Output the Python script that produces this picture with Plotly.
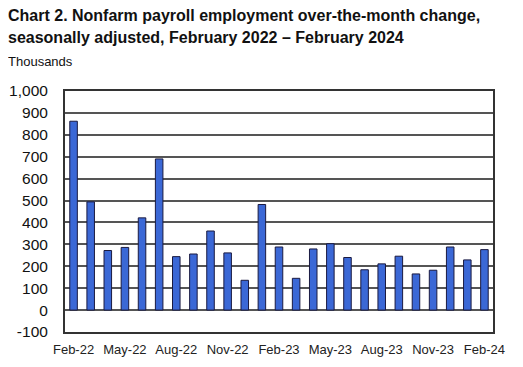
import plotly.graph_objects as go

months = ["Feb-22", "Mar-22", "Apr-22", "May-22", "Jun-22", "Jul-22", "Aug-22", "Sep-22",
          "Oct-22", "Nov-22", "Dec-22", "Jan-23", "Feb-23", "Mar-23", "Apr-23", "May-23",
          "Jun-23", "Jul-23", "Aug-23", "Sep-23", "Oct-23", "Nov-23", "Dec-23", "Jan-24", "Feb-24"]
change = [862, 494, 272, 286, 421, 690, 244, 256, 361, 261, 136, 482, 288, 145, 279, 303,
          240, 184, 211, 246, 165, 182, 288, 229, 276]
tick_labels = months[::3]
y_ticks = [-100, 0, 100, 200, 300, 400, 500, 600, 700, 800, 900, 1000]
y_tick_text = ["-100", "0", "100", "200", "300", "400", "500", "600", "700", "800", "900", "1,000"]

fig = go.Figure(go.Bar(
    x=months, y=change,
    marker=dict(color="#3B68D6", line=dict(color="#1a1a40", width=1)),
))

# page body has an 8px margin; figure is sized so the plot lands where the reference has it
OFF = 8
W, H = 523 - OFF, 367 - OFF
L, R, T, B = 65 - OFF, 30, 91 - OFF, 35
pw = W - L - R
ph = H - T - B

def ax(px):
    return (px - OFF - L) / pw

def ay(py):
    return 1 + (T - (py - OFF)) / ph

fig.update_layout(
    width=W, height=H,
    margin=dict(l=L, r=R, t=T, b=B),
    paper_bgcolor="white", plot_bgcolor="white",
    bargap=0.56,
    showlegend=False,
    font=dict(family="Liberation Sans, Arial", color="#111"),
    xaxis=dict(
        type="category", tickvals=tick_labels, ticktext=tick_labels,
        tickfont=dict(size=13, color="#222"), showgrid=False, automargin=False,
        showline=True, linecolor="#333", linewidth=2, mirror=True, ticks="",
        ticklabelstandoff=4,
    ),
    yaxis=dict(
        range=[-100, 1000], tickvals=y_ticks, ticktext=y_tick_text,
        tickfont=dict(size=15.5, color="#111"), automargin=False,
        showgrid=True, gridcolor="#555", gridwidth=2,
        zeroline=True, zerolinecolor="#555", zerolinewidth=2,
        showline=True, linecolor="#333", linewidth=2, mirror=True, ticks="",
        ticklabelstandoff=12,
    ),
    annotations=[
        dict(text="<b>Chart 2. Nonfarm payroll employment over-the-month change,</b>",
             xref="paper", yref="paper", x=ax(6), y=ay(15),
             xanchor="left", yanchor="middle", showarrow=False,
             font=dict(size=16, color="#111")),
        dict(text="<b>seasonally adjusted, February 2022 – February 2024</b>",
             xref="paper", yref="paper", x=ax(6), y=ay(38),
             xanchor="left", yanchor="middle", showarrow=False,
             font=dict(size=16, color="#111")),
        dict(text="Thousands",
             xref="paper", yref="paper", x=ax(6), y=ay(61),
             xanchor="left", yanchor="middle", showarrow=False,
             font=dict(size=13, color="#111")),
    ],
)

fig.write_html("out.html")
